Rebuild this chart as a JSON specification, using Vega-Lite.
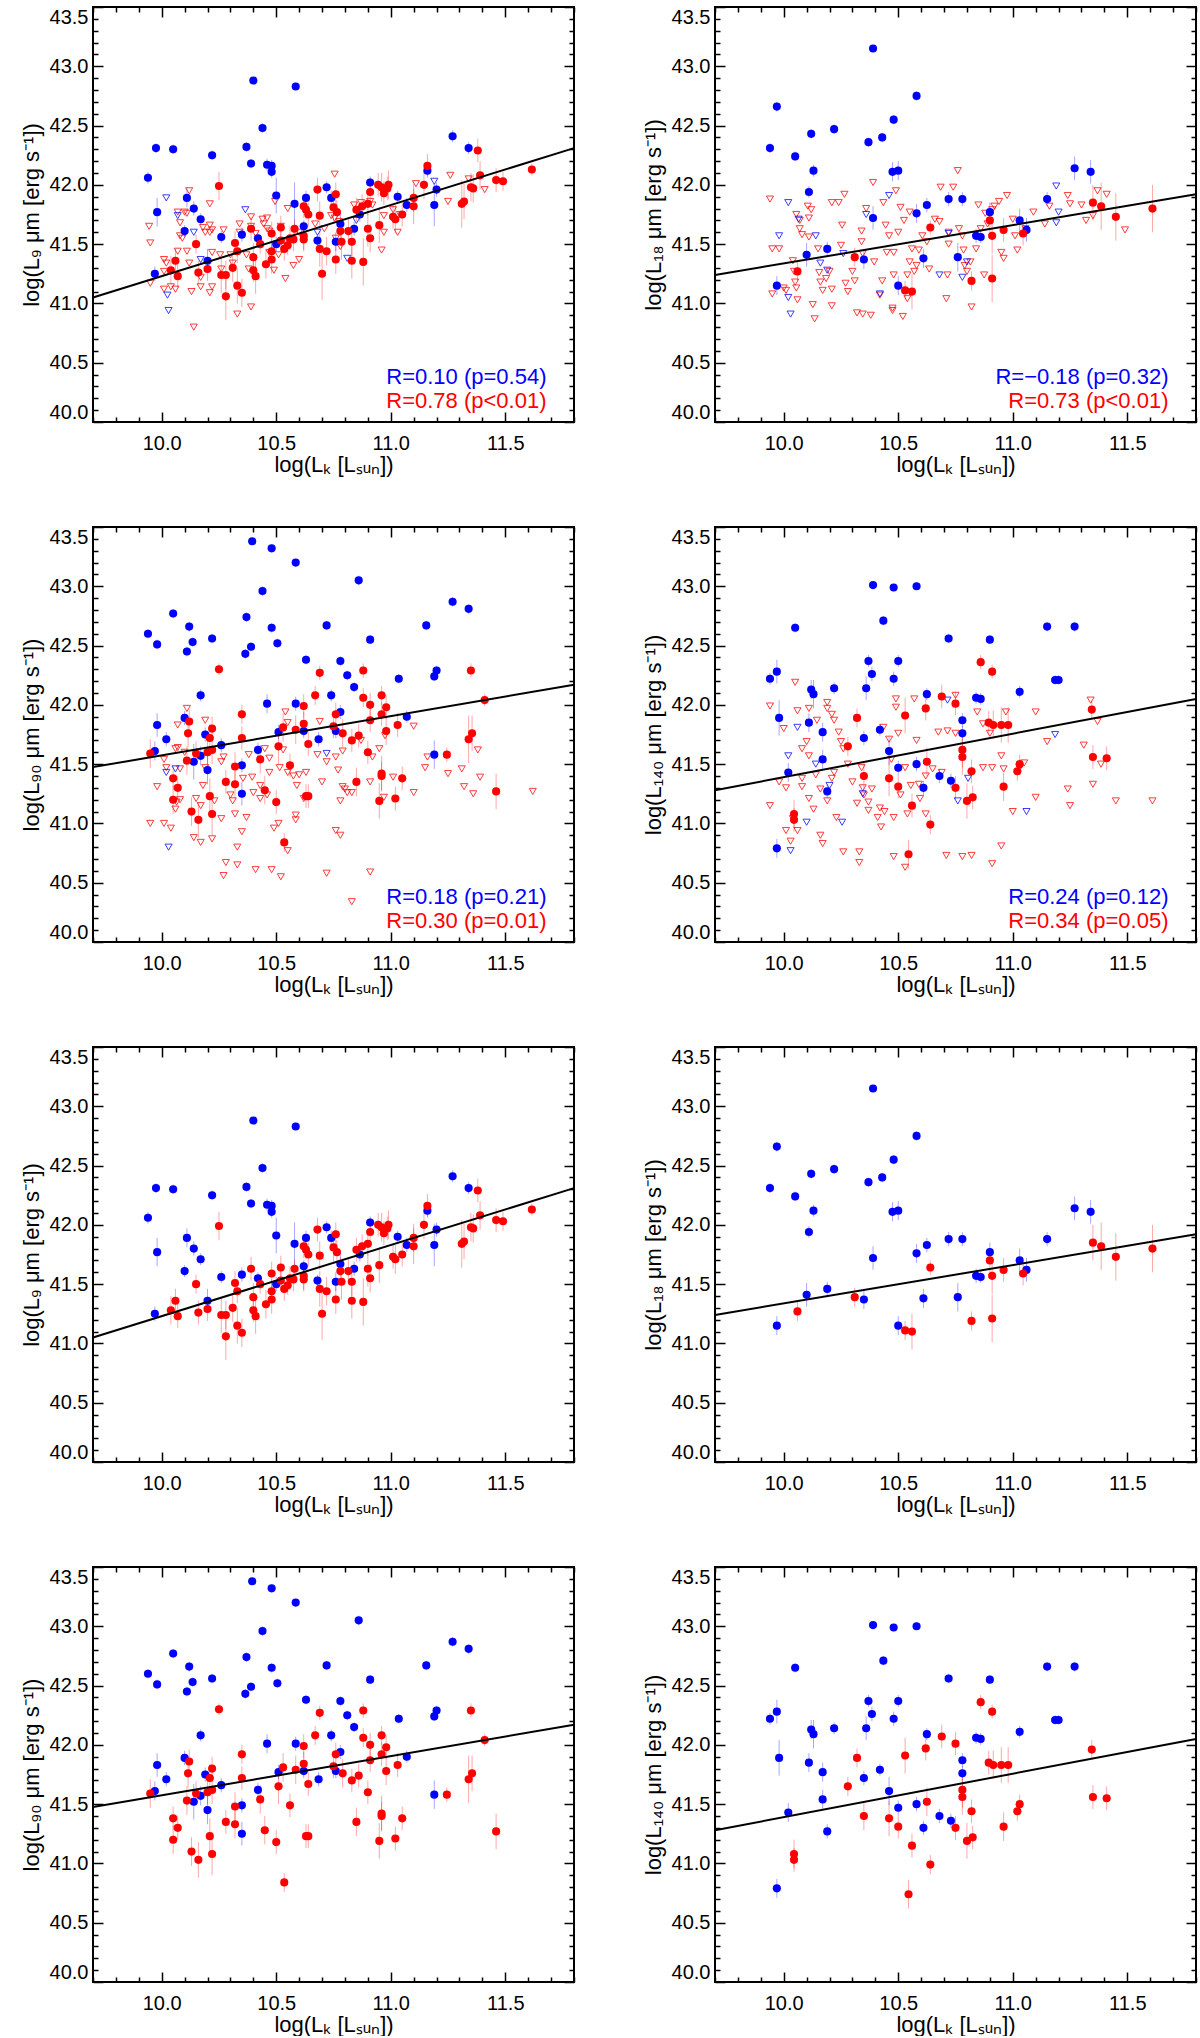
{
  "$schema": "https://vega.github.io/schema/vega-lite/v6.json",
  "background": "white",
  "padding": {"left": 19, "top": 5, "right": 5, "bottom": 0},
  "columns": 2,
  "spacing": {"row": 105, "column": 141},
  "bounds": "flush",
  "datasets": {
    "d9": [
      {"x":9.94,"y":42.06,"c":"b","e":0.05},{"x":9.975,"y":42.31,"c":"b","e":0.04},{"x":10.05,"y":42.30,"c":"b","e":0.04},{"x":9.98,"y":41.77,"c":"b","e":0.12},{"x":9.97,"y":41.25,"c":"b","e":0.06},{"x":10.11,"y":41.89,"c":"b","e":0.08},{"x":10.14,"y":41.80,"c":"b","e":0.06},{"x":10.10,"y":41.61,"c":"b","e":0.05},{"x":10.17,"y":41.71,"c":"b","e":0.05},{"x":10.22,"y":42.25,"c":"b","e":0.04},{"x":10.20,"y":41.36,"c":"b","e":0.1},{"x":10.26,"y":41.56,"c":"b","e":0.05},{"x":10.40,"y":42.88,"c":"b","e":0.03},{"x":10.37,"y":42.32,"c":"b","e":0.04},{"x":10.39,"y":42.18,"c":"b","e":0.04},{"x":10.44,"y":42.48,"c":"b","e":0.04},{"x":10.35,"y":41.58,"c":"b","e":0.06},{"x":10.42,"y":41.55,"c":"b","e":0.05},{"x":10.46,"y":42.17,"c":"b","e":0.05},{"x":10.48,"y":42.16,"c":"b","e":0.05},{"x":10.48,"y":42.11,"c":"b","e":0.05},{"x":10.50,"y":41.91,"c":"b","e":0.15},{"x":10.50,"y":41.50,"c":"b","e":0.06},{"x":10.585,"y":42.83,"c":"b","e":0.03},{"x":10.58,"y":41.84,"c":"b","e":0.18},{"x":10.63,"y":41.89,"c":"b","e":0.06},{"x":10.62,"y":41.65,"c":"b","e":0.05},{"x":10.68,"y":41.53,"c":"b","e":0.05},{"x":10.72,"y":41.98,"c":"b","e":0.05},{"x":10.74,"y":41.89,"c":"b","e":0.06},{"x":10.76,"y":41.52,"c":"b","e":0.08},{"x":10.78,"y":41.67,"c":"b","e":0.1},{"x":10.84,"y":41.63,"c":"b","e":0.06},{"x":10.865,"y":41.75,"c":"b","e":0.06},{"x":10.91,"y":42.02,"c":"b","e":0.05},{"x":11.03,"y":41.90,"c":"b","e":0.05},{"x":11.07,"y":41.83,"c":"b","e":0.06},{"x":11.16,"y":42.12,"c":"b","e":0.05},{"x":11.19,"y":41.83,"c":"b","e":0.18},{"x":11.20,"y":41.96,"c":"b","e":0.06},{"x":11.27,"y":42.41,"c":"b","e":0.05},{"x":11.34,"y":42.31,"c":"b","e":0.05},
      {"x":10.25,"y":41.99,"c":"r","e":0.12},{"x":10.15,"y":41.50,"c":"r","e":0.08},{"x":10.06,"y":41.36,"c":"r","e":0.1},{"x":10.04,"y":41.28,"c":"r","e":0.12},{"x":10.07,"y":41.23,"c":"r","e":0.1},{"x":10.16,"y":41.26,"c":"r","e":0.1},{"x":10.20,"y":41.29,"c":"r","e":0.1},{"x":10.26,"y":41.24,"c":"r","e":0.15},{"x":10.28,"y":41.24,"c":"r","e":0.12},{"x":10.28,"y":41.06,"c":"r","e":0.2},{"x":10.32,"y":41.51,"c":"r","e":0.1},{"x":10.31,"y":41.30,"c":"r","e":0.12},{"x":10.33,"y":41.44,"c":"r","e":0.1},{"x":10.33,"y":41.15,"c":"r","e":0.15},{"x":10.35,"y":41.09,"c":"r","e":0.12},{"x":10.39,"y":41.63,"c":"r","e":0.1},{"x":10.40,"y":41.39,"c":"r","e":0.12},{"x":10.40,"y":41.28,"c":"r","e":0.1},{"x":10.41,"y":41.23,"c":"r","e":0.15},{"x":10.43,"y":41.50,"c":"r","e":0.08},{"x":10.455,"y":41.33,"c":"r","e":0.12},{"x":10.48,"y":41.59,"c":"r","e":0.1},{"x":10.48,"y":41.44,"c":"r","e":0.1},{"x":10.48,"y":41.37,"c":"r","e":0.12},{"x":10.52,"y":41.64,"c":"r","e":0.1},{"x":10.52,"y":41.53,"c":"r","e":0.08},{"x":10.535,"y":41.46,"c":"r","e":0.1},{"x":10.55,"y":41.49,"c":"r","e":0.08},{"x":10.56,"y":41.55,"c":"r","e":0.1},{"x":10.58,"y":41.63,"c":"r","e":0.08},{"x":10.575,"y":41.54,"c":"r","e":0.1},{"x":10.62,"y":41.82,"c":"r","e":0.1},{"x":10.63,"y":41.79,"c":"r","e":0.08},{"x":10.64,"y":41.75,"c":"r","e":0.1},{"x":10.62,"y":41.57,"c":"r","e":0.12},{"x":10.62,"y":41.54,"c":"r","e":0.1},{"x":10.68,"y":41.96,"c":"r","e":0.1},{"x":10.69,"y":41.74,"c":"r","e":0.12},{"x":10.69,"y":41.46,"c":"r","e":0.15},{"x":10.72,"y":41.44,"c":"r","e":0.12},{"x":10.70,"y":41.25,"c":"r","e":0.22},{"x":10.76,"y":41.92,"c":"r","e":0.1},{"x":10.75,"y":41.81,"c":"r","e":0.12},{"x":10.765,"y":41.77,"c":"r","e":0.1},{"x":10.78,"y":41.61,"c":"r","e":0.12},{"x":10.785,"y":41.52,"c":"r","e":0.15},{"x":10.76,"y":41.37,"c":"r","e":0.12},{"x":10.815,"y":41.61,"c":"r","e":0.1},{"x":10.83,"y":41.52,"c":"r","e":0.12},{"x":10.83,"y":41.36,"c":"r","e":0.15},{"x":10.88,"y":41.35,"c":"r","e":0.2},{"x":10.85,"y":41.79,"c":"r","e":0.1},{"x":10.875,"y":41.82,"c":"r","e":0.1},{"x":10.90,"y":41.84,"c":"r","e":0.1},{"x":10.91,"y":41.94,"c":"r","e":0.12},{"x":10.90,"y":41.63,"c":"r","e":0.15},{"x":10.91,"y":41.55,"c":"r","e":0.12},{"x":10.95,"y":41.66,"c":"r","e":0.15},{"x":10.945,"y":42.00,"c":"r","e":0.1},{"x":10.96,"y":41.98,"c":"r","e":0.12},{"x":10.97,"y":41.93,"c":"r","e":0.1},{"x":10.985,"y":41.97,"c":"r","e":0.1},{"x":10.99,"y":42.00,"c":"r","e":0.12},{"x":11.01,"y":41.73,"c":"r","e":0.1},{"x":11.02,"y":41.71,"c":"r","e":0.12},{"x":11.05,"y":41.75,"c":"r","e":0.1},{"x":11.10,"y":41.89,"c":"r","e":0.12},{"x":11.10,"y":41.82,"c":"r","e":0.15},{"x":11.145,"y":42.00,"c":"r","e":0.12},{"x":11.16,"y":42.16,"c":"r","e":0.1},{"x":11.31,"y":41.84,"c":"r","e":0.2},{"x":11.32,"y":41.86,"c":"r","e":0.15},{"x":11.35,"y":41.98,"c":"r","e":0.12},{"x":11.36,"y":41.97,"c":"r","e":0.12},{"x":11.38,"y":42.29,"c":"r","e":0.1},{"x":11.39,"y":42.08,"c":"r","e":0.12},{"x":11.46,"y":42.04,"c":"r","e":0.1},{"x":11.49,"y":42.03,"c":"r","e":0.08},{"x":11.616,"y":42.13,"c":"r","e":0.05}
    ],
    "u9": [
      {"x":9.945,"y":41.65,"c":"r"},{"x":9.95,"y":41.51,"c":"r"},{"x":9.95,"y":41.17,"c":"r"},{"x":10.01,"y":41.37,"c":"r"},{"x":10.02,"y":41.34,"c":"r"},{"x":10.01,"y":41.27,"c":"r"},{"x":10.01,"y":41.12,"c":"r"},{"x":10.04,"y":41.14,"c":"r"},{"x":10.06,"y":41.12,"c":"r"},{"x":10.07,"y":41.77,"c":"r"},{"x":10.08,"y":41.68,"c":"r"},{"x":10.08,"y":41.57,"c":"r"},{"x":10.09,"y":41.55,"c":"r"},{"x":10.07,"y":41.44,"c":"r"},{"x":10.10,"y":41.77,"c":"r"},{"x":10.11,"y":41.76,"c":"r"},{"x":10.12,"y":41.95,"c":"r"},{"x":10.11,"y":41.44,"c":"r"},{"x":10.12,"y":41.34,"c":"r"},{"x":10.13,"y":41.10,"c":"r"},{"x":10.14,"y":40.80,"c":"r"},{"x":10.17,"y":41.14,"c":"r"},{"x":10.17,"y":41.22,"c":"r"},{"x":10.18,"y":41.64,"c":"r"},{"x":10.19,"y":41.60,"c":"r"},{"x":10.21,"y":41.84,"c":"r"},{"x":10.21,"y":41.66,"c":"r"},{"x":10.21,"y":41.60,"c":"r"},{"x":10.22,"y":41.62,"c":"r"},{"x":10.21,"y":41.09,"c":"r"},{"x":10.22,"y":41.14,"c":"r"},{"x":10.22,"y":41.43,"c":"r"},{"x":10.255,"y":41.41,"c":"r"},{"x":10.26,"y":41.29,"c":"r"},{"x":10.27,"y":41.62,"c":"r"},{"x":10.30,"y":41.41,"c":"r"},{"x":10.31,"y":41.34,"c":"r"},{"x":10.33,"y":40.91,"c":"r"},{"x":10.34,"y":41.67,"c":"r"},{"x":10.34,"y":41.60,"c":"r"},{"x":10.37,"y":41.41,"c":"r"},{"x":10.38,"y":41.29,"c":"r"},{"x":10.39,"y":40.97,"c":"r"},{"x":10.39,"y":41.73,"c":"r"},{"x":10.39,"y":41.65,"c":"r"},{"x":10.41,"y":41.59,"c":"r"},{"x":10.44,"y":41.71,"c":"r"},{"x":10.445,"y":41.67,"c":"r"},{"x":10.46,"y":41.72,"c":"r"},{"x":10.46,"y":41.63,"c":"r"},{"x":10.47,"y":41.61,"c":"r"},{"x":10.47,"y":41.43,"c":"r"},{"x":10.49,"y":41.28,"c":"r"},{"x":10.495,"y":41.86,"c":"r"},{"x":10.51,"y":41.41,"c":"r"},{"x":10.52,"y":41.65,"c":"r"},{"x":10.54,"y":41.21,"c":"r"},{"x":10.55,"y":41.80,"c":"r"},{"x":10.555,"y":41.52,"c":"r"},{"x":10.575,"y":41.32,"c":"r"},{"x":10.60,"y":41.37,"c":"r"},{"x":10.60,"y":41.60,"c":"r"},{"x":10.67,"y":41.67,"c":"r"},{"x":10.71,"y":41.63,"c":"r"},{"x":10.755,"y":42.09,"c":"r"},{"x":10.74,"y":41.74,"c":"r"},{"x":10.755,"y":41.72,"c":"r"},{"x":10.76,"y":41.55,"c":"r"},{"x":10.78,"y":41.48,"c":"r"},{"x":10.775,"y":41.69,"c":"r"},{"x":10.84,"y":41.83,"c":"r"},{"x":10.87,"y":41.85,"c":"r"},{"x":10.91,"y":41.86,"c":"r"},{"x":10.92,"y":41.83,"c":"r"},{"x":10.96,"y":41.45,"c":"r"},{"x":10.97,"y":41.60,"c":"r"},{"x":10.97,"y":41.74,"c":"r"},{"x":11.01,"y":41.79,"c":"r"},{"x":11.03,"y":41.60,"c":"r"},{"x":11.04,"y":41.75,"c":"r"},{"x":11.11,"y":42.01,"c":"r"},{"x":11.25,"y":41.86,"c":"r"},{"x":11.26,"y":42.08,"c":"r"},{"x":11.34,"y":42.05,"c":"r"},{"x":11.41,"y":41.96,"c":"r"},
      {"x":10.02,"y":41.89,"c":"b"},{"x":10.07,"y":41.74,"c":"b"},{"x":10.14,"y":41.60,"c":"b"},{"x":10.025,"y":41.07,"c":"b"},{"x":10.03,"y":40.94,"c":"b"},{"x":10.365,"y":41.79,"c":"b"},{"x":10.17,"y":41.37,"c":"b"},{"x":10.68,"y":41.60,"c":"b"},{"x":10.81,"y":41.38,"c":"b"},{"x":11.19,"y":42.03,"c":"b"},{"x":10.85,"y":41.70,"c":"b"}
    ],
    "d18": [
      {"x":9.94,"y":42.31,"c":"b","e":0.04},{"x":9.97,"y":42.66,"c":"b","e":0.04},{"x":10.05,"y":42.24,"c":"b","e":0.04},{"x":10.12,"y":42.43,"c":"b","e":0.04},{"x":10.13,"y":42.12,"c":"b","e":0.05},{"x":10.11,"y":41.94,"c":"b","e":0.05},{"x":10.10,"y":41.41,"c":"b","e":0.1},{"x":9.97,"y":41.15,"c":"b","e":0.08},{"x":10.19,"y":41.46,"c":"b","e":0.06},{"x":10.22,"y":42.47,"c":"b","e":0.04},{"x":10.37,"y":42.36,"c":"b","e":0.04},{"x":10.39,"y":43.15,"c":"b","e":0.03},{"x":10.43,"y":42.40,"c":"b","e":0.04},{"x":10.48,"y":42.55,"c":"b","e":0.04},{"x":10.475,"y":42.11,"c":"b","e":0.08},{"x":10.50,"y":42.12,"c":"b","e":0.08},{"x":10.39,"y":41.72,"c":"b","e":0.1},{"x":10.35,"y":41.37,"c":"b","e":0.08},{"x":10.50,"y":41.15,"c":"b","e":0.08},{"x":10.58,"y":42.75,"c":"b","e":0.04},{"x":10.58,"y":41.76,"c":"b","e":0.08},{"x":10.625,"y":41.83,"c":"b","e":0.06},{"x":10.61,"y":41.38,"c":"b","e":0.08},{"x":10.72,"y":41.88,"c":"b","e":0.06},{"x":10.78,"y":41.88,"c":"b","e":0.06},{"x":10.76,"y":41.39,"c":"b","e":0.12},{"x":10.84,"y":41.57,"c":"b","e":0.06},{"x":10.86,"y":41.56,"c":"b","e":0.05},{"x":10.90,"y":41.77,"c":"b","e":0.08},{"x":11.03,"y":41.70,"c":"b","e":0.1},{"x":11.06,"y":41.62,"c":"b","e":0.1},{"x":11.15,"y":41.88,"c":"b","e":0.06},{"x":11.27,"y":42.14,"c":"b","e":0.1},{"x":11.34,"y":42.11,"c":"b","e":0.1},
      {"x":10.06,"y":41.27,"c":"r","e":0.08},{"x":10.31,"y":41.39,"c":"r","e":0.08},{"x":10.64,"y":41.64,"c":"r","e":0.06},{"x":10.53,"y":41.11,"c":"r","e":0.08},{"x":10.56,"y":41.10,"c":"r","e":0.15},{"x":10.82,"y":41.19,"c":"r","e":0.08},{"x":10.90,"y":41.70,"c":"r","e":0.1},{"x":10.91,"y":41.57,"c":"r","e":0.15},{"x":10.91,"y":41.21,"c":"r","e":0.2},{"x":10.96,"y":41.62,"c":"r","e":0.1},{"x":11.045,"y":41.59,"c":"r","e":0.1},{"x":11.35,"y":41.85,"c":"r","e":0.15},{"x":11.386,"y":41.82,"c":"r","e":0.2},{"x":11.45,"y":41.73,"c":"r","e":0.2},{"x":11.61,"y":41.80,"c":"r","e":0.2}
    ],
    "u18": [
      {"x":9.94,"y":41.88,"c":"r"},{"x":9.95,"y":41.08,"c":"r"},{"x":9.95,"y":41.46,"c":"r"},{"x":9.98,"y":41.46,"c":"r"},{"x":10.00,"y":41.13,"c":"r"},{"x":10.01,"y":41.11,"c":"r"},{"x":10.04,"y":41.36,"c":"r"},{"x":10.045,"y":41.27,"c":"r"},{"x":10.05,"y":41.18,"c":"r"},{"x":10.055,"y":41.13,"c":"r"},{"x":10.06,"y":41.03,"c":"r"},{"x":10.055,"y":41.75,"c":"r"},{"x":10.07,"y":41.70,"c":"r"},{"x":10.07,"y":41.63,"c":"r"},{"x":10.08,"y":41.58,"c":"r"},{"x":10.105,"y":41.82,"c":"r"},{"x":10.12,"y":41.79,"c":"r"},{"x":10.11,"y":41.72,"c":"r"},{"x":10.11,"y":41.56,"c":"r"},{"x":10.127,"y":40.99,"c":"r"},{"x":10.135,"y":40.87,"c":"r"},{"x":10.15,"y":41.46,"c":"r"},{"x":10.155,"y":41.26,"c":"r"},{"x":10.16,"y":41.18,"c":"r"},{"x":10.17,"y":41.11,"c":"r"},{"x":10.185,"y":41.21,"c":"r"},{"x":10.20,"y":41.27,"c":"r"},{"x":10.21,"y":40.98,"c":"r"},{"x":10.21,"y":41.12,"c":"r"},{"x":10.21,"y":41.85,"c":"r"},{"x":10.24,"y":41.85,"c":"r"},{"x":10.265,"y":41.92,"c":"r"},{"x":10.25,"y":41.49,"c":"r"},{"x":10.255,"y":41.66,"c":"r"},{"x":10.27,"y":41.17,"c":"r"},{"x":10.28,"y":41.10,"c":"r"},{"x":10.30,"y":41.27,"c":"r"},{"x":10.31,"y":41.19,"c":"r"},{"x":10.32,"y":40.92,"c":"r"},{"x":10.345,"y":40.91,"c":"r"},{"x":10.38,"y":40.90,"c":"r"},{"x":10.34,"y":41.61,"c":"r"},{"x":10.34,"y":41.52,"c":"r"},{"x":10.345,"y":41.42,"c":"r"},{"x":10.36,"y":41.80,"c":"r"},{"x":10.39,"y":42.02,"c":"r"},{"x":10.395,"y":41.35,"c":"r"},{"x":10.42,"y":41.07,"c":"r"},{"x":10.43,"y":41.19,"c":"r"},{"x":10.435,"y":41.85,"c":"r"},{"x":10.445,"y":41.66,"c":"r"},{"x":10.45,"y":41.43,"c":"r"},{"x":10.46,"y":41.57,"c":"r"},{"x":10.475,"y":40.94,"c":"r"},{"x":10.48,"y":41.24,"c":"r"},{"x":10.48,"y":41.43,"c":"r"},{"x":10.49,"y":41.95,"c":"r"},{"x":10.50,"y":41.60,"c":"r"},{"x":10.51,"y":41.81,"c":"r"},{"x":10.52,"y":40.89,"c":"r"},{"x":10.525,"y":41.70,"c":"r"},{"x":10.54,"y":41.24,"c":"r"},{"x":10.54,"y":41.04,"c":"r"},{"x":10.55,"y":41.77,"c":"r"},{"x":10.55,"y":41.35,"c":"r"},{"x":10.56,"y":41.46,"c":"r"},{"x":10.57,"y":41.27,"c":"r"},{"x":10.58,"y":41.32,"c":"r"},{"x":10.59,"y":41.45,"c":"r"},{"x":10.605,"y":41.57,"c":"r"},{"x":10.625,"y":41.52,"c":"r"},{"x":10.635,"y":41.29,"c":"r"},{"x":10.66,"y":41.71,"c":"r"},{"x":10.68,"y":41.69,"c":"r"},{"x":10.685,"y":41.98,"c":"r"},{"x":10.71,"y":41.04,"c":"r"},{"x":10.715,"y":41.24,"c":"r"},{"x":10.72,"y":41.50,"c":"r"},{"x":10.72,"y":41.60,"c":"r"},{"x":10.74,"y":41.98,"c":"r"},{"x":10.76,"y":42.12,"c":"r"},{"x":10.765,"y":41.63,"c":"r"},{"x":10.78,"y":41.57,"c":"r"},{"x":10.785,"y":41.45,"c":"r"},{"x":10.79,"y":41.32,"c":"r"},{"x":10.80,"y":41.27,"c":"r"},{"x":10.815,"y":41.35,"c":"r"},{"x":10.84,"y":41.46,"c":"r"},{"x":10.85,"y":41.83,"c":"r"},{"x":10.86,"y":41.63,"c":"r"},{"x":10.875,"y":41.24,"c":"r"},{"x":10.88,"y":41.76,"c":"r"},{"x":10.89,"y":41.67,"c":"r"},{"x":10.91,"y":41.79,"c":"r"},{"x":10.92,"y":41.82,"c":"r"},{"x":10.94,"y":41.86,"c":"r"},{"x":10.95,"y":41.43,"c":"r"},{"x":10.96,"y":41.38,"c":"r"},{"x":10.975,"y":41.91,"c":"r"},{"x":11.00,"y":41.71,"c":"r"},{"x":11.01,"y":41.57,"c":"r"},{"x":11.02,"y":41.45,"c":"r"},{"x":11.055,"y":41.63,"c":"r"},{"x":11.09,"y":41.77,"c":"r"},{"x":11.14,"y":41.67,"c":"r"},{"x":11.16,"y":41.82,"c":"r"},{"x":11.24,"y":41.91,"c":"r"},{"x":11.25,"y":41.84,"c":"r"},{"x":11.30,"y":41.83,"c":"r"},{"x":11.32,"y":41.70,"c":"r"},{"x":11.37,"y":41.95,"c":"r"},{"x":10.82,"y":40.97,"c":"r"},{"x":10.475,"y":40.96,"c":"r"},{"x":11.41,"y":41.92,"c":"r"},{"x":11.35,"y":41.74,"c":"r"},{"x":11.49,"y":41.62,"c":"r"},
      {"x":10.02,"y":41.85,"c":"b"},{"x":9.98,"y":41.57,"c":"b"},{"x":10.065,"y":41.71,"c":"b"},{"x":10.02,"y":41.05,"c":"b"},{"x":10.03,"y":40.91,"c":"b"},{"x":10.14,"y":41.57,"c":"b"},{"x":10.16,"y":41.34,"c":"b"},{"x":10.19,"y":41.28,"c":"b"},{"x":10.26,"y":41.42,"c":"b"},{"x":10.36,"y":41.75,"c":"b"},{"x":10.42,"y":41.08,"c":"b"},{"x":10.46,"y":41.91,"c":"b"},{"x":10.72,"y":41.59,"c":"b"},{"x":10.68,"y":41.24,"c":"b"},{"x":10.78,"y":41.22,"c":"b"},{"x":10.80,"y":41.35,"c":"b"},{"x":11.19,"y":41.99,"c":"b"},{"x":11.20,"y":41.77,"c":"b"},{"x":11.19,"y":41.68,"c":"b"}
    ],
    "d90": [
      {"x":9.94,"y":42.60,"c":"b","e":0.04},{"x":9.98,"y":42.51,"c":"b","e":0.04},{"x":9.97,"y":41.61,"c":"b","e":0.08},{"x":9.98,"y":41.83,"c":"b","e":0.1},{"x":10.05,"y":42.77,"c":"b","e":0.04},{"x":10.02,"y":41.71,"c":"b","e":0.06},{"x":10.10,"y":41.89,"c":"b","e":0.06},{"x":10.12,"y":42.66,"c":"b","e":0.04},{"x":10.135,"y":42.53,"c":"b","e":0.04},{"x":10.11,"y":42.45,"c":"b","e":0.04},{"x":10.17,"y":42.08,"c":"b","e":0.05},{"x":10.14,"y":41.52,"c":"b","e":0.15},{"x":10.17,"y":41.57,"c":"b","e":0.08},{"x":10.19,"y":41.75,"c":"b","e":0.06},{"x":10.20,"y":41.45,"c":"b","e":0.12},{"x":10.22,"y":42.56,"c":"b","e":0.04},{"x":10.26,"y":41.66,"c":"b","e":0.06},{"x":10.37,"y":42.74,"c":"b","e":0.04},{"x":10.39,"y":42.49,"c":"b","e":0.04},{"x":10.365,"y":42.43,"c":"b","e":0.04},{"x":10.395,"y":43.38,"c":"b","e":0.03},{"x":10.44,"y":42.96,"c":"b","e":0.04},{"x":10.48,"y":43.32,"c":"b","e":0.03},{"x":10.48,"y":42.65,"c":"b","e":0.04},{"x":10.505,"y":42.52,"c":"b","e":0.04},{"x":10.46,"y":42.01,"c":"b","e":0.08},{"x":10.35,"y":41.49,"c":"b","e":0.06},{"x":10.35,"y":41.25,"c":"b","e":0.1},{"x":10.42,"y":41.62,"c":"b","e":0.06},{"x":10.51,"y":41.77,"c":"b","e":0.06},{"x":10.585,"y":43.20,"c":"b","e":0.03},{"x":10.63,"y":42.38,"c":"b","e":0.04},{"x":10.585,"y":42.01,"c":"b","e":0.06},{"x":10.62,"y":41.78,"c":"b","e":0.06},{"x":10.685,"y":41.71,"c":"b","e":0.06},{"x":10.72,"y":42.67,"c":"b","e":0.04},{"x":10.74,"y":42.08,"c":"b","e":0.05},{"x":10.78,"y":42.37,"c":"b","e":0.04},{"x":10.81,"y":42.25,"c":"b","e":0.04},{"x":10.78,"y":41.94,"c":"b","e":0.06},{"x":10.76,"y":41.78,"c":"b","e":0.06},{"x":10.84,"y":42.15,"c":"b","e":0.04},{"x":10.86,"y":43.05,"c":"b","e":0.04},{"x":10.91,"y":42.55,"c":"b","e":0.04},{"x":11.035,"y":42.22,"c":"b","e":0.04},{"x":11.07,"y":41.90,"c":"b","e":0.05},{"x":11.155,"y":42.67,"c":"b","e":0.04},{"x":11.19,"y":42.24,"c":"b","e":0.04},{"x":11.20,"y":42.29,"c":"b","e":0.04},{"x":11.19,"y":41.58,"c":"b","e":0.12},{"x":11.27,"y":42.87,"c":"b","e":0.04},{"x":11.34,"y":42.81,"c":"b","e":0.04},
      {"x":9.95,"y":41.59,"c":"r","e":0.12},{"x":10.25,"y":42.30,"c":"r","e":0.05},{"x":10.12,"y":41.86,"c":"r","e":0.1},{"x":10.115,"y":41.76,"c":"r","e":0.12},{"x":10.11,"y":41.53,"c":"r","e":0.12},{"x":10.05,"y":41.38,"c":"r","e":0.1},{"x":10.07,"y":41.30,"c":"r","e":0.1},{"x":10.05,"y":41.20,"c":"r","e":0.12},{"x":10.13,"y":41.10,"c":"r","e":0.12},{"x":10.16,"y":41.03,"c":"r","e":0.15},{"x":10.15,"y":41.59,"c":"r","e":0.1},{"x":10.20,"y":41.60,"c":"r","e":0.1},{"x":10.21,"y":41.72,"c":"r","e":0.12},{"x":10.22,"y":41.80,"c":"r","e":0.1},{"x":10.22,"y":41.62,"c":"r","e":0.12},{"x":10.21,"y":41.23,"c":"r","e":0.15},{"x":10.22,"y":41.08,"c":"r","e":0.18},{"x":10.28,"y":41.35,"c":"r","e":0.1},{"x":10.32,"y":41.48,"c":"r","e":0.12},{"x":10.32,"y":41.33,"c":"r","e":0.12},{"x":10.35,"y":41.92,"c":"r","e":0.08},{"x":10.35,"y":41.72,"c":"r","e":0.1},{"x":10.43,"y":41.54,"c":"r","e":0.12},{"x":10.45,"y":41.28,"c":"r","e":0.12},{"x":10.50,"y":41.18,"c":"r","e":0.1},{"x":10.51,"y":41.65,"c":"r","e":0.15},{"x":10.53,"y":41.81,"c":"r","e":0.12},{"x":10.56,"y":41.49,"c":"r","e":0.1},{"x":10.535,"y":40.84,"c":"r","e":0.08},{"x":10.585,"y":41.79,"c":"r","e":0.12},{"x":10.62,"y":41.99,"c":"r","e":0.1},{"x":10.62,"y":41.84,"c":"r","e":0.1},{"x":10.64,"y":41.67,"c":"r","e":0.1},{"x":10.63,"y":41.23,"c":"r","e":0.1},{"x":10.64,"y":41.23,"c":"r","e":0.1},{"x":10.67,"y":42.08,"c":"r","e":0.08},{"x":10.69,"y":42.27,"c":"r","e":0.06},{"x":10.75,"y":41.82,"c":"r","e":0.1},{"x":10.76,"y":41.92,"c":"r","e":0.1},{"x":10.79,"y":41.76,"c":"r","e":0.12},{"x":10.83,"y":41.70,"c":"r","e":0.1},{"x":10.86,"y":41.74,"c":"r","e":0.1},{"x":10.85,"y":41.35,"c":"r","e":0.12},{"x":10.88,"y":42.29,"c":"r","e":0.06},{"x":10.88,"y":42.06,"c":"r","e":0.08},{"x":10.91,"y":42.00,"c":"r","e":0.1},{"x":10.91,"y":41.87,"c":"r","e":0.1},{"x":10.90,"y":41.60,"c":"r","e":0.1},{"x":10.96,"y":42.08,"c":"r","e":0.08},{"x":10.96,"y":41.92,"c":"r","e":0.1},{"x":10.98,"y":41.98,"c":"r","e":0.1},{"x":10.98,"y":41.78,"c":"r","e":0.12},{"x":10.96,"y":41.42,"c":"r","e":0.15},{"x":10.96,"y":41.40,"c":"r","e":0.12},{"x":10.95,"y":41.19,"c":"r","e":0.15},{"x":11.02,"y":41.21,"c":"r","e":0.1},{"x":11.03,"y":41.83,"c":"r","e":0.1},{"x":11.05,"y":41.38,"c":"r","e":0.1},{"x":11.245,"y":41.58,"c":"r","e":0.06},{"x":11.34,"y":41.71,"c":"r","e":0.2},{"x":11.355,"y":41.76,"c":"r","e":0.15},{"x":11.35,"y":42.29,"c":"r","e":0.06},{"x":11.41,"y":42.04,"c":"r","e":0.05},{"x":11.46,"y":41.27,"c":"r","e":0.15}
    ],
    "u90": [
      {"x":9.95,"y":41.00,"c":"r"},{"x":10.01,"y":41.00,"c":"r"},{"x":10.04,"y":40.96,"c":"r"},{"x":9.98,"y":41.31,"c":"r"},{"x":10.01,"y":41.54,"c":"r"},{"x":10.02,"y":41.47,"c":"r"},{"x":10.06,"y":41.63,"c":"r"},{"x":10.07,"y":41.64,"c":"r"},{"x":10.07,"y":41.83,"c":"r"},{"x":10.08,"y":41.46,"c":"r"},{"x":10.065,"y":41.18,"c":"r"},{"x":10.06,"y":41.12,"c":"r"},{"x":10.08,"y":41.20,"c":"r"},{"x":10.11,"y":41.97,"c":"r"},{"x":10.10,"y":41.60,"c":"r"},{"x":10.15,"y":41.21,"c":"r"},{"x":10.14,"y":40.88,"c":"r"},{"x":10.17,"y":40.84,"c":"r"},{"x":10.17,"y":41.15,"c":"r"},{"x":10.18,"y":41.32,"c":"r"},{"x":10.19,"y":41.87,"c":"r"},{"x":10.19,"y":41.47,"c":"r"},{"x":10.22,"y":40.87,"c":"r"},{"x":10.23,"y":41.19,"c":"r"},{"x":10.26,"y":41.04,"c":"r"},{"x":10.26,"y":41.52,"c":"r"},{"x":10.27,"y":41.56,"c":"r"},{"x":10.27,"y":40.56,"c":"r"},{"x":10.28,"y":40.67,"c":"r"},{"x":10.30,"y":41.24,"c":"r"},{"x":10.31,"y":41.19,"c":"r"},{"x":10.32,"y":41.08,"c":"r"},{"x":10.33,"y":40.80,"c":"r"},{"x":10.33,"y":40.65,"c":"r"},{"x":10.35,"y":40.93,"c":"r"},{"x":10.37,"y":41.05,"c":"r"},{"x":10.355,"y":41.38,"c":"r"},{"x":10.38,"y":41.58,"c":"r"},{"x":10.395,"y":41.39,"c":"r"},{"x":10.40,"y":41.26,"c":"r"},{"x":10.41,"y":40.61,"c":"r"},{"x":10.43,"y":41.32,"c":"r"},{"x":10.43,"y":41.21,"c":"r"},{"x":10.45,"y":41.63,"c":"r"},{"x":10.47,"y":41.55,"c":"r"},{"x":10.47,"y":41.43,"c":"r"},{"x":10.46,"y":41.24,"c":"r"},{"x":10.48,"y":40.61,"c":"r"},{"x":10.49,"y":40.96,"c":"r"},{"x":10.51,"y":41.00,"c":"r"},{"x":10.515,"y":41.47,"c":"r"},{"x":10.52,"y":40.55,"c":"r"},{"x":10.53,"y":41.62,"c":"r"},{"x":10.54,"y":41.94,"c":"r"},{"x":10.55,"y":41.85,"c":"r"},{"x":10.55,"y":40.77,"c":"r"},{"x":10.55,"y":41.43,"c":"r"},{"x":10.575,"y":41.40,"c":"r"},{"x":10.585,"y":41.07,"c":"r"},{"x":10.585,"y":41.03,"c":"r"},{"x":10.59,"y":41.32,"c":"r"},{"x":10.60,"y":41.41,"c":"r"},{"x":10.63,"y":41.43,"c":"r"},{"x":10.62,"y":41.21,"c":"r"},{"x":10.69,"y":41.86,"c":"r"},{"x":10.68,"y":41.58,"c":"r"},{"x":10.70,"y":41.35,"c":"r"},{"x":10.72,"y":40.58,"c":"r"},{"x":10.72,"y":41.52,"c":"r"},{"x":10.76,"y":41.56,"c":"r"},{"x":10.77,"y":41.45,"c":"r"},{"x":10.79,"y":41.61,"c":"r"},{"x":10.78,"y":41.19,"c":"r"},{"x":10.79,"y":41.31,"c":"r"},{"x":10.80,"y":41.29,"c":"r"},{"x":10.81,"y":41.26,"c":"r"},{"x":10.83,"y":41.26,"c":"r"},{"x":10.83,"y":40.34,"c":"r"},{"x":10.76,"y":40.94,"c":"r"},{"x":10.78,"y":40.90,"c":"r"},{"x":10.87,"y":41.70,"c":"r"},{"x":10.91,"y":40.59,"c":"r"},{"x":10.91,"y":41.35,"c":"r"},{"x":10.92,"y":41.56,"c":"r"},{"x":10.95,"y":41.63,"c":"r"},{"x":10.975,"y":41.74,"c":"r"},{"x":10.97,"y":41.22,"c":"r"},{"x":11.01,"y":41.39,"c":"r"},{"x":11.10,"y":41.26,"c":"r"},{"x":11.10,"y":41.82,"c":"r"},{"x":11.15,"y":41.47,"c":"r"},{"x":11.16,"y":41.56,"c":"r"},{"x":11.25,"y":41.42,"c":"r"},{"x":11.31,"y":41.46,"c":"r"},{"x":11.32,"y":41.31,"c":"r"},{"x":11.36,"y":41.25,"c":"r"},{"x":11.38,"y":41.62,"c":"r"},{"x":11.39,"y":41.39,"c":"r"},{"x":11.62,"y":41.27,"c":"r"},
      {"x":10.02,"y":41.43,"c":"b"},{"x":10.06,"y":41.46,"c":"b"},{"x":10.03,"y":40.80,"c":"b"},{"x":10.72,"y":41.59,"c":"b"}
    ],
    "d140": [
      {"x":9.94,"y":42.22,"c":"b","e":0.05},{"x":9.97,"y":42.28,"c":"b","e":0.1},{"x":9.98,"y":41.89,"c":"b","e":0.15},{"x":9.97,"y":40.79,"c":"b","e":0.08},{"x":10.05,"y":42.65,"c":"b","e":0.04},{"x":10.02,"y":41.43,"c":"b","e":0.08},{"x":10.11,"y":41.85,"c":"b","e":0.08},{"x":10.12,"y":42.13,"c":"b","e":0.08},{"x":10.13,"y":42.09,"c":"b","e":0.12},{"x":10.17,"y":41.77,"c":"b","e":0.08},{"x":10.17,"y":41.54,"c":"b","e":0.08},{"x":10.19,"y":41.27,"c":"b","e":0.06},{"x":10.22,"y":42.14,"c":"b","e":0.05},{"x":10.35,"y":41.72,"c":"b","e":0.06},{"x":10.36,"y":42.14,"c":"b","e":0.1},{"x":10.37,"y":42.37,"c":"b","e":0.05},{"x":10.385,"y":42.26,"c":"b","e":0.06},{"x":10.39,"y":43.01,"c":"b","e":0.03},{"x":10.435,"y":42.71,"c":"b","e":0.04},{"x":10.48,"y":42.99,"c":"b","e":0.03},{"x":10.48,"y":42.22,"c":"b","e":0.06},{"x":10.50,"y":42.37,"c":"b","e":0.05},{"x":10.42,"y":41.79,"c":"b","e":0.05},{"x":10.46,"y":41.61,"c":"b","e":0.12},{"x":10.50,"y":41.47,"c":"b","e":0.06},{"x":10.58,"y":43.00,"c":"b","e":0.03},{"x":10.58,"y":41.50,"c":"b","e":0.06},{"x":10.61,"y":41.30,"c":"b","e":0.06},{"x":10.625,"y":42.09,"c":"b","e":0.05},{"x":10.68,"y":41.40,"c":"b","e":0.06},{"x":10.72,"y":42.56,"c":"b","e":0.04},{"x":10.73,"y":41.36,"c":"b","e":0.06},{"x":10.78,"y":41.87,"c":"b","e":0.06},{"x":10.78,"y":41.76,"c":"b","e":0.06},{"x":10.84,"y":42.06,"c":"b","e":0.05},{"x":10.86,"y":42.05,"c":"b","e":0.05},{"x":10.90,"y":42.55,"c":"b","e":0.04},{"x":11.03,"y":42.11,"c":"b","e":0.05},{"x":11.15,"y":42.66,"c":"b","e":0.04},{"x":11.185,"y":42.21,"c":"b","e":0.04},{"x":11.20,"y":42.21,"c":"b","e":0.04},{"x":11.27,"y":42.66,"c":"b","e":0.04},
      {"x":10.045,"y":41.08,"c":"r","e":0.12},{"x":10.045,"y":41.03,"c":"r","e":0.1},{"x":10.32,"y":41.89,"c":"r","e":0.08},{"x":10.28,"y":41.65,"c":"r","e":0.08},{"x":10.35,"y":41.40,"c":"r","e":0.12},{"x":10.46,"y":41.38,"c":"r","e":0.15},{"x":10.50,"y":41.31,"c":"r","e":0.1},{"x":10.53,"y":41.91,"c":"r","e":0.15},{"x":10.56,"y":41.15,"c":"r","e":0.1},{"x":10.545,"y":40.74,"c":"r","e":0.12},{"x":10.62,"y":41.97,"c":"r","e":0.1},{"x":10.625,"y":41.52,"c":"r","e":0.12},{"x":10.64,"y":40.99,"c":"r","e":0.08},{"x":10.69,"y":42.07,"c":"r","e":0.1},{"x":10.75,"y":42.01,"c":"r","e":0.1},{"x":10.75,"y":41.30,"c":"r","e":0.1},{"x":10.78,"y":41.62,"c":"r","e":0.15},{"x":10.78,"y":41.56,"c":"r","e":0.15},{"x":10.80,"y":41.19,"c":"r","e":0.15},{"x":10.825,"y":41.22,"c":"r","e":0.1},{"x":10.82,"y":41.44,"c":"r","e":0.1},{"x":10.86,"y":42.36,"c":"r","e":0.06},{"x":10.91,"y":42.28,"c":"r","e":0.06},{"x":10.895,"y":41.85,"c":"r","e":0.1},{"x":10.915,"y":41.83,"c":"r","e":0.12},{"x":10.95,"y":41.83,"c":"r","e":0.15},{"x":10.98,"y":41.83,"c":"r","e":0.15},{"x":10.96,"y":41.31,"c":"r","e":0.12},{"x":11.03,"y":41.50,"c":"r","e":0.08},{"x":11.02,"y":41.44,"c":"r","e":0.08},{"x":11.345,"y":41.96,"c":"r","e":0.08},{"x":11.35,"y":41.56,"c":"r","e":0.1},{"x":11.41,"y":41.55,"c":"r","e":0.1}
    ],
    "u140": [
      {"x":9.94,"y":41.99,"c":"r"},{"x":9.94,"y":41.15,"c":"r"},{"x":9.98,"y":41.35,"c":"r"},{"x":10.00,"y":41.80,"c":"r"},{"x":10.01,"y":41.30,"c":"r"},{"x":10.01,"y":40.94,"c":"r"},{"x":10.03,"y":40.85,"c":"r"},{"x":10.04,"y":41.04,"c":"r"},{"x":10.05,"y":42.19,"c":"r"},{"x":10.06,"y":41.95,"c":"r"},{"x":10.06,"y":40.94,"c":"r"},{"x":10.08,"y":41.38,"c":"r"},{"x":10.08,"y":41.63,"c":"r"},{"x":10.08,"y":41.31,"c":"r"},{"x":10.10,"y":41.69,"c":"r"},{"x":10.11,"y":41.21,"c":"r"},{"x":10.11,"y":41.57,"c":"r"},{"x":10.11,"y":41.97,"c":"r"},{"x":10.13,"y":41.12,"c":"r"},{"x":10.145,"y":41.87,"c":"r"},{"x":10.14,"y":41.41,"c":"r"},{"x":10.16,"y":41.29,"c":"r"},{"x":10.16,"y":40.90,"c":"r"},{"x":10.17,"y":40.83,"c":"r"},{"x":10.19,"y":41.97,"c":"r"},{"x":10.19,"y":42.02,"c":"r"},{"x":10.19,"y":41.19,"c":"r"},{"x":10.21,"y":41.92,"c":"r"},{"x":10.22,"y":41.87,"c":"r"},{"x":10.22,"y":41.43,"c":"r"},{"x":10.21,"y":41.38,"c":"r"},{"x":10.23,"y":41.05,"c":"r"},{"x":10.24,"y":41.77,"c":"r"},{"x":10.25,"y":41.69,"c":"r"},{"x":10.26,"y":41.63,"c":"r"},{"x":10.26,"y":40.76,"c":"r"},{"x":10.28,"y":41.50,"c":"r"},{"x":10.30,"y":41.35,"c":"r"},{"x":10.32,"y":41.17,"c":"r"},{"x":10.33,"y":40.76,"c":"r"},{"x":10.33,"y":40.67,"c":"r"},{"x":10.34,"y":41.47,"c":"r"},{"x":10.345,"y":41.30,"c":"r"},{"x":10.35,"y":41.24,"c":"r"},{"x":10.37,"y":41.18,"c":"r"},{"x":10.37,"y":41.11,"c":"r"},{"x":10.385,"y":41.29,"c":"r"},{"x":10.41,"y":41.05,"c":"r"},{"x":10.42,"y":41.13,"c":"r"},{"x":10.425,"y":40.97,"c":"r"},{"x":10.435,"y":41.81,"c":"r"},{"x":10.44,"y":41.10,"c":"r"},{"x":10.46,"y":41.71,"c":"r"},{"x":10.47,"y":41.54,"c":"r"},{"x":10.48,"y":40.72,"c":"r"},{"x":10.48,"y":41.05,"c":"r"},{"x":10.49,"y":41.98,"c":"r"},{"x":10.49,"y":42.05,"c":"r"},{"x":10.50,"y":41.76,"c":"r"},{"x":10.51,"y":41.24,"c":"r"},{"x":10.53,"y":41.47,"c":"r"},{"x":10.54,"y":41.08,"c":"r"},{"x":10.53,"y":40.63,"c":"r"},{"x":10.555,"y":41.32,"c":"r"},{"x":10.57,"y":42.05,"c":"r"},{"x":10.58,"y":41.70,"c":"r"},{"x":10.59,"y":41.33,"c":"r"},{"x":10.595,"y":41.21,"c":"r"},{"x":10.62,"y":41.08,"c":"r"},{"x":10.62,"y":41.40,"c":"r"},{"x":10.65,"y":41.46,"c":"r"},{"x":10.675,"y":41.77,"c":"r"},{"x":10.715,"y":41.78,"c":"r"},{"x":10.69,"y":41.43,"c":"r"},{"x":10.71,"y":40.73,"c":"r"},{"x":10.75,"y":42.08,"c":"r"},{"x":10.75,"y":41.76,"c":"r"},{"x":10.78,"y":40.72,"c":"r"},{"x":10.82,"y":40.73,"c":"r"},{"x":10.845,"y":41.94,"c":"r"},{"x":10.87,"y":41.84,"c":"r"},{"x":10.87,"y":41.47,"c":"r"},{"x":10.91,"y":41.47,"c":"r"},{"x":10.91,"y":40.66,"c":"r"},{"x":10.90,"y":41.76,"c":"r"},{"x":10.95,"y":41.57,"c":"r"},{"x":10.95,"y":40.81,"c":"r"},{"x":10.96,"y":41.46,"c":"r"},{"x":10.97,"y":41.94,"c":"r"},{"x":11.00,"y":41.10,"c":"r"},{"x":11.03,"y":41.47,"c":"r"},{"x":11.05,"y":41.51,"c":"r"},{"x":11.10,"y":41.22,"c":"r"},{"x":11.10,"y":41.94,"c":"r"},{"x":11.15,"y":41.69,"c":"r"},{"x":11.24,"y":41.29,"c":"r"},{"x":11.25,"y":41.15,"c":"r"},{"x":11.31,"y":41.66,"c":"r"},{"x":11.34,"y":42.04,"c":"r"},{"x":11.35,"y":41.33,"c":"r"},{"x":11.37,"y":41.86,"c":"r"},{"x":11.385,"y":41.50,"c":"r"},{"x":11.45,"y":41.19,"c":"r"},{"x":11.61,"y":41.19,"c":"r"},
      {"x":10.02,"y":41.57,"c":"b"},{"x":10.06,"y":41.81,"c":"b"},{"x":10.14,"y":41.50,"c":"b"},{"x":10.20,"y":41.32,"c":"b"},{"x":10.10,"y":41.01,"c":"b"},{"x":10.255,"y":41.01,"c":"b"},{"x":10.03,"y":40.77,"c":"b"},{"x":10.345,"y":41.25,"c":"b"},{"x":10.715,"y":42.04,"c":"b"},{"x":10.805,"y":41.38,"c":"b"},{"x":10.76,"y":41.19,"c":"b"},{"x":11.06,"y":41.10,"c":"b"},{"x":11.185,"y":41.75,"c":"b"}
    ]
  },
  "concat": [
    {
      "width": 481, "height": 415,
      "encoding": {
        "x": {"field": "x", "type": "quantitative", "scale": {"domain": [9.7, 11.8], "nice": false, "zero": false}, "axis": null},
        "y": {"field": "y", "type": "quantitative", "scale": {"domain": [40, 43.5], "nice": false, "zero": false}, "axis": null},
        "color": {"field": "c", "type": "nominal", "scale": {"domain": ["b", "r"], "range": ["#0000ff", "#ff0000"]}, "legend": null}
      },
      "layer": [
        {"data": {"name": "d9"}, "mark": {"type": "errorbar", "ticks": false, "thickness": 1, "opacity": 0.35}, "encoding": {"yError": {"field": "e"}}},
        {"data": {"name": "u9"}, "mark": {"type": "point", "shape": "triangle-down", "filled": false, "size": 50, "strokeWidth": 0.9, "opacity": 0.85}},
        {"data": {"name": "d9"}, "mark": {"type": "circle", "size": 66, "opacity": 1},
         "encoding": {
           "x": {"field": "x", "type": "quantitative", "scale": {"domain": [9.7, 11.8], "nice": false, "zero": false}, "axis": {"orient": "bottom", "values": [9.7,9.8,9.9,10,10.1,10.2,10.3,10.4,10.5,10.6,10.7,10.8,10.9,11,11.1,11.2,11.3,11.4,11.5,11.6,11.7,11.8], "labelExpr": "abs(datum.value*2-round(datum.value*2))<0.01 ? format(datum.value,'.1f') : ''", "tickSize": {"condition": {"test": "abs(datum.value*2-round(datum.value*2))<0.01", "value": -10}, "value": -5}, "labelPadding": 21, "labelFlush": false, "title": "log(Lₖ [Lₛᵤₙ])", "titlePadding": -4}},
           "y": {"field": "y", "type": "quantitative", "scale": {"domain": [40, 43.5], "nice": false, "zero": false}, "axis": {"orient": "left", "values": [40,40.1,40.2,40.3,40.4,40.5,40.6,40.7,40.8,40.9,41,41.1,41.2,41.3,41.4,41.5,41.6,41.7,41.8,41.9,42,42.1,42.2,42.3,42.4,42.5,42.6,42.7,42.8,42.9,43,43.1,43.2,43.3,43.4,43.5], "labelExpr": "abs(datum.value*2-round(datum.value*2))<0.01 ? format(datum.value,'.1f') : ''", "tickSize": {"condition": {"test": "abs(datum.value*2-round(datum.value*2))<0.01", "value": -10}, "value": -5}, "labelPadding": 15, "labelFlush": true, "title": "log(L₉ μm [erg s⁻¹])", "titlePadding": 6}}
         }},
        {"data": {"values": [{"x": 9.7, "y": 41.05, "x2": 11.8, "y2": 42.31}]}, "mark": {"type": "rule", "strokeWidth": 2},
         "encoding": {
           "x": {"field": "x", "type": "quantitative", "axis": {"orient": "top", "values": [9.7,9.8,9.9,10,10.1,10.2,10.3,10.4,10.5,10.6,10.7,10.8,10.9,11,11.1,11.2,11.3,11.4,11.5,11.6,11.7,11.8], "labels": false, "title": null, "tickSize": {"condition": {"test": "abs(datum.value*2-round(datum.value*2))<0.01", "value": -10}, "value": -5}}},
           "y": {"field": "y", "type": "quantitative", "axis": {"orient": "right", "values": [40,40.1,40.2,40.3,40.4,40.5,40.6,40.7,40.8,40.9,41,41.1,41.2,41.3,41.4,41.5,41.6,41.7,41.8,41.9,42,42.1,42.2,42.3,42.4,42.5,42.6,42.7,42.8,42.9,43,43.1,43.2,43.3,43.4,43.5], "labels": false, "title": null, "tickSize": {"condition": {"test": "abs(datum.value*2-round(datum.value*2))<0.01", "value": -10}, "value": -5}}},
           "x2": {"field": "x2"}, "y2": {"field": "y2"}, "color": {"value": "black"}
         }},
        {"data": {"values": [{"x": 11.68, "y": 40.38, "c": "b", "t": "R=0.10 (p=0.54)"}, {"x": 11.68, "y": 40.18, "c": "r", "t": "R=0.78 (p<0.01)"}]}, "mark": {"type": "text", "align": "right", "baseline": "middle", "fontSize": 22}, "encoding": {"text": {"field": "t"}}}
      ],
      "resolve": {"axis": {"x": "independent", "y": "independent"}}
    },
    {
      "width": 481, "height": 415,
      "encoding": {
        "x": {"field": "x", "type": "quantitative", "scale": {"domain": [9.7, 11.8], "nice": false, "zero": false}, "axis": null},
        "y": {"field": "y", "type": "quantitative", "scale": {"domain": [40, 43.5], "nice": false, "zero": false}, "axis": null},
        "color": {"field": "c", "type": "nominal", "scale": {"domain": ["b", "r"], "range": ["#0000ff", "#ff0000"]}, "legend": null}
      },
      "layer": [
        {"data": {"name": "d18"}, "mark": {"type": "errorbar", "ticks": false, "thickness": 1, "opacity": 0.35}, "encoding": {"yError": {"field": "e"}}},
        {"data": {"name": "u18"}, "mark": {"type": "point", "shape": "triangle-down", "filled": false, "size": 50, "strokeWidth": 0.9, "opacity": 0.85}},
        {"data": {"name": "d18"}, "mark": {"type": "circle", "size": 66, "opacity": 1},
         "encoding": {
           "x": {"field": "x", "type": "quantitative", "scale": {"domain": [9.7, 11.8], "nice": false, "zero": false}, "axis": {"orient": "bottom", "values": [9.7,9.8,9.9,10,10.1,10.2,10.3,10.4,10.5,10.6,10.7,10.8,10.9,11,11.1,11.2,11.3,11.4,11.5,11.6,11.7,11.8], "labelExpr": "abs(datum.value*2-round(datum.value*2))<0.01 ? format(datum.value,'.1f') : ''", "tickSize": {"condition": {"test": "abs(datum.value*2-round(datum.value*2))<0.01", "value": -10}, "value": -5}, "labelPadding": 21, "labelFlush": false, "title": "log(Lₖ [Lₛᵤₙ])", "titlePadding": -4}},
           "y": {"field": "y", "type": "quantitative", "scale": {"domain": [40, 43.5], "nice": false, "zero": false}, "axis": {"orient": "left", "values": [40,40.1,40.2,40.3,40.4,40.5,40.6,40.7,40.8,40.9,41,41.1,41.2,41.3,41.4,41.5,41.6,41.7,41.8,41.9,42,42.1,42.2,42.3,42.4,42.5,42.6,42.7,42.8,42.9,43,43.1,43.2,43.3,43.4,43.5], "labelExpr": "abs(datum.value*2-round(datum.value*2))<0.01 ? format(datum.value,'.1f') : ''", "tickSize": {"condition": {"test": "abs(datum.value*2-round(datum.value*2))<0.01", "value": -10}, "value": -5}, "labelPadding": 15, "labelFlush": true, "title": "log(L₁₈ μm [erg s⁻¹])", "titlePadding": 6}}
         }},
        {"data": {"values": [{"x": 9.7, "y": 41.24, "x2": 11.8, "y2": 41.92}]}, "mark": {"type": "rule", "strokeWidth": 2},
         "encoding": {
           "x": {"field": "x", "type": "quantitative", "axis": {"orient": "top", "values": [9.7,9.8,9.9,10,10.1,10.2,10.3,10.4,10.5,10.6,10.7,10.8,10.9,11,11.1,11.2,11.3,11.4,11.5,11.6,11.7,11.8], "labels": false, "title": null, "tickSize": {"condition": {"test": "abs(datum.value*2-round(datum.value*2))<0.01", "value": -10}, "value": -5}}},
           "y": {"field": "y", "type": "quantitative", "axis": {"orient": "right", "values": [40,40.1,40.2,40.3,40.4,40.5,40.6,40.7,40.8,40.9,41,41.1,41.2,41.3,41.4,41.5,41.6,41.7,41.8,41.9,42,42.1,42.2,42.3,42.4,42.5,42.6,42.7,42.8,42.9,43,43.1,43.2,43.3,43.4,43.5], "labels": false, "title": null, "tickSize": {"condition": {"test": "abs(datum.value*2-round(datum.value*2))<0.01", "value": -10}, "value": -5}}},
           "x2": {"field": "x2"}, "y2": {"field": "y2"}, "color": {"value": "black"}
         }},
        {"data": {"values": [{"x": 11.68, "y": 40.38, "c": "b", "t": "R=−0.18 (p=0.32)"}, {"x": 11.68, "y": 40.18, "c": "r", "t": "R=0.73 (p<0.01)"}]}, "mark": {"type": "text", "align": "right", "baseline": "middle", "fontSize": 22}, "encoding": {"text": {"field": "t"}}}
      ],
      "resolve": {"axis": {"x": "independent", "y": "independent"}}
    },
    {
      "width": 481, "height": 415,
      "encoding": {
        "x": {"field": "x", "type": "quantitative", "scale": {"domain": [9.7, 11.8], "nice": false, "zero": false}, "axis": null},
        "y": {"field": "y", "type": "quantitative", "scale": {"domain": [40, 43.5], "nice": false, "zero": false}, "axis": null},
        "color": {"field": "c", "type": "nominal", "scale": {"domain": ["b", "r"], "range": ["#0000ff", "#ff0000"]}, "legend": null}
      },
      "layer": [
        {"data": {"name": "d90"}, "mark": {"type": "errorbar", "ticks": false, "thickness": 1, "opacity": 0.35}, "encoding": {"yError": {"field": "e"}}},
        {"data": {"name": "u90"}, "mark": {"type": "point", "shape": "triangle-down", "filled": false, "size": 50, "strokeWidth": 0.9, "opacity": 0.85}},
        {"data": {"name": "d90"}, "mark": {"type": "circle", "size": 66, "opacity": 1},
         "encoding": {
           "x": {"field": "x", "type": "quantitative", "scale": {"domain": [9.7, 11.8], "nice": false, "zero": false}, "axis": {"orient": "bottom", "values": [9.7,9.8,9.9,10,10.1,10.2,10.3,10.4,10.5,10.6,10.7,10.8,10.9,11,11.1,11.2,11.3,11.4,11.5,11.6,11.7,11.8], "labelExpr": "abs(datum.value*2-round(datum.value*2))<0.01 ? format(datum.value,'.1f') : ''", "tickSize": {"condition": {"test": "abs(datum.value*2-round(datum.value*2))<0.01", "value": -10}, "value": -5}, "labelPadding": 21, "labelFlush": false, "title": "log(Lₖ [Lₛᵤₙ])", "titlePadding": -4}},
           "y": {"field": "y", "type": "quantitative", "scale": {"domain": [40, 43.5], "nice": false, "zero": false}, "axis": {"orient": "left", "values": [40,40.1,40.2,40.3,40.4,40.5,40.6,40.7,40.8,40.9,41,41.1,41.2,41.3,41.4,41.5,41.6,41.7,41.8,41.9,42,42.1,42.2,42.3,42.4,42.5,42.6,42.7,42.8,42.9,43,43.1,43.2,43.3,43.4,43.5], "labelExpr": "abs(datum.value*2-round(datum.value*2))<0.01 ? format(datum.value,'.1f') : ''", "tickSize": {"condition": {"test": "abs(datum.value*2-round(datum.value*2))<0.01", "value": -10}, "value": -5}, "labelPadding": 15, "labelFlush": true, "title": "log(L₉₀ μm [erg s⁻¹])", "titlePadding": 6}}
         }},
        {"data": {"values": [{"x": 9.7, "y": 41.475, "x2": 11.8, "y2": 42.17}]}, "mark": {"type": "rule", "strokeWidth": 2},
         "encoding": {
           "x": {"field": "x", "type": "quantitative", "axis": {"orient": "top", "values": [9.7,9.8,9.9,10,10.1,10.2,10.3,10.4,10.5,10.6,10.7,10.8,10.9,11,11.1,11.2,11.3,11.4,11.5,11.6,11.7,11.8], "labels": false, "title": null, "tickSize": {"condition": {"test": "abs(datum.value*2-round(datum.value*2))<0.01", "value": -10}, "value": -5}}},
           "y": {"field": "y", "type": "quantitative", "axis": {"orient": "right", "values": [40,40.1,40.2,40.3,40.4,40.5,40.6,40.7,40.8,40.9,41,41.1,41.2,41.3,41.4,41.5,41.6,41.7,41.8,41.9,42,42.1,42.2,42.3,42.4,42.5,42.6,42.7,42.8,42.9,43,43.1,43.2,43.3,43.4,43.5], "labels": false, "title": null, "tickSize": {"condition": {"test": "abs(datum.value*2-round(datum.value*2))<0.01", "value": -10}, "value": -5}}},
           "x2": {"field": "x2"}, "y2": {"field": "y2"}, "color": {"value": "black"}
         }},
        {"data": {"values": [{"x": 11.68, "y": 40.38, "c": "b", "t": "R=0.18 (p=0.21)"}, {"x": 11.68, "y": 40.18, "c": "r", "t": "R=0.30 (p=0.01)"}]}, "mark": {"type": "text", "align": "right", "baseline": "middle", "fontSize": 22}, "encoding": {"text": {"field": "t"}}}
      ],
      "resolve": {"axis": {"x": "independent", "y": "independent"}}
    },
    {
      "width": 481, "height": 415,
      "encoding": {
        "x": {"field": "x", "type": "quantitative", "scale": {"domain": [9.7, 11.8], "nice": false, "zero": false}, "axis": null},
        "y": {"field": "y", "type": "quantitative", "scale": {"domain": [40, 43.5], "nice": false, "zero": false}, "axis": null},
        "color": {"field": "c", "type": "nominal", "scale": {"domain": ["b", "r"], "range": ["#0000ff", "#ff0000"]}, "legend": null}
      },
      "layer": [
        {"data": {"name": "d140"}, "mark": {"type": "errorbar", "ticks": false, "thickness": 1, "opacity": 0.35}, "encoding": {"yError": {"field": "e"}}},
        {"data": {"name": "u140"}, "mark": {"type": "point", "shape": "triangle-down", "filled": false, "size": 50, "strokeWidth": 0.9, "opacity": 0.85}},
        {"data": {"name": "d140"}, "mark": {"type": "circle", "size": 66, "opacity": 1},
         "encoding": {
           "x": {"field": "x", "type": "quantitative", "scale": {"domain": [9.7, 11.8], "nice": false, "zero": false}, "axis": {"orient": "bottom", "values": [9.7,9.8,9.9,10,10.1,10.2,10.3,10.4,10.5,10.6,10.7,10.8,10.9,11,11.1,11.2,11.3,11.4,11.5,11.6,11.7,11.8], "labelExpr": "abs(datum.value*2-round(datum.value*2))<0.01 ? format(datum.value,'.1f') : ''", "tickSize": {"condition": {"test": "abs(datum.value*2-round(datum.value*2))<0.01", "value": -10}, "value": -5}, "labelPadding": 21, "labelFlush": false, "title": "log(Lₖ [Lₛᵤₙ])", "titlePadding": -4}},
           "y": {"field": "y", "type": "quantitative", "scale": {"domain": [40, 43.5], "nice": false, "zero": false}, "axis": {"orient": "left", "values": [40,40.1,40.2,40.3,40.4,40.5,40.6,40.7,40.8,40.9,41,41.1,41.2,41.3,41.4,41.5,41.6,41.7,41.8,41.9,42,42.1,42.2,42.3,42.4,42.5,42.6,42.7,42.8,42.9,43,43.1,43.2,43.3,43.4,43.5], "labelExpr": "abs(datum.value*2-round(datum.value*2))<0.01 ? format(datum.value,'.1f') : ''", "tickSize": {"condition": {"test": "abs(datum.value*2-round(datum.value*2))<0.01", "value": -10}, "value": -5}, "labelPadding": 15, "labelFlush": true, "title": "log(L₁₄₀ μm [erg s⁻¹])", "titlePadding": 6}}
         }},
        {"data": {"values": [{"x": 9.7, "y": 41.28, "x2": 11.8, "y2": 42.05}]}, "mark": {"type": "rule", "strokeWidth": 2},
         "encoding": {
           "x": {"field": "x", "type": "quantitative", "axis": {"orient": "top", "values": [9.7,9.8,9.9,10,10.1,10.2,10.3,10.4,10.5,10.6,10.7,10.8,10.9,11,11.1,11.2,11.3,11.4,11.5,11.6,11.7,11.8], "labels": false, "title": null, "tickSize": {"condition": {"test": "abs(datum.value*2-round(datum.value*2))<0.01", "value": -10}, "value": -5}}},
           "y": {"field": "y", "type": "quantitative", "axis": {"orient": "right", "values": [40,40.1,40.2,40.3,40.4,40.5,40.6,40.7,40.8,40.9,41,41.1,41.2,41.3,41.4,41.5,41.6,41.7,41.8,41.9,42,42.1,42.2,42.3,42.4,42.5,42.6,42.7,42.8,42.9,43,43.1,43.2,43.3,43.4,43.5], "labels": false, "title": null, "tickSize": {"condition": {"test": "abs(datum.value*2-round(datum.value*2))<0.01", "value": -10}, "value": -5}}},
           "x2": {"field": "x2"}, "y2": {"field": "y2"}, "color": {"value": "black"}
         }},
        {"data": {"values": [{"x": 11.68, "y": 40.38, "c": "b", "t": "R=0.24 (p=0.12)"}, {"x": 11.68, "y": 40.18, "c": "r", "t": "R=0.34 (p=0.05)"}]}, "mark": {"type": "text", "align": "right", "baseline": "middle", "fontSize": 22}, "encoding": {"text": {"field": "t"}}}
      ],
      "resolve": {"axis": {"x": "independent", "y": "independent"}}
    },
    {
      "width": 481, "height": 415,
      "encoding": {
        "x": {"field": "x", "type": "quantitative", "scale": {"domain": [9.7, 11.8], "nice": false, "zero": false}, "axis": null},
        "y": {"field": "y", "type": "quantitative", "scale": {"domain": [40, 43.5], "nice": false, "zero": false}, "axis": null},
        "color": {"field": "c", "type": "nominal", "scale": {"domain": ["b", "r"], "range": ["#0000ff", "#ff0000"]}, "legend": null}
      },
      "layer": [
        {"data": {"name": "d9"}, "mark": {"type": "errorbar", "ticks": false, "thickness": 1, "opacity": 0.35}, "encoding": {"yError": {"field": "e"}}},
        {"data": {"name": "d9"}, "mark": {"type": "circle", "size": 66, "opacity": 1},
         "encoding": {
           "x": {"field": "x", "type": "quantitative", "scale": {"domain": [9.7, 11.8], "nice": false, "zero": false}, "axis": {"orient": "bottom", "values": [9.7,9.8,9.9,10,10.1,10.2,10.3,10.4,10.5,10.6,10.7,10.8,10.9,11,11.1,11.2,11.3,11.4,11.5,11.6,11.7,11.8], "labelExpr": "abs(datum.value*2-round(datum.value*2))<0.01 ? format(datum.value,'.1f') : ''", "tickSize": {"condition": {"test": "abs(datum.value*2-round(datum.value*2))<0.01", "value": -10}, "value": -5}, "labelPadding": 21, "labelFlush": false, "title": "log(Lₖ [Lₛᵤₙ])", "titlePadding": -4}},
           "y": {"field": "y", "type": "quantitative", "scale": {"domain": [40, 43.5], "nice": false, "zero": false}, "axis": {"orient": "left", "values": [40,40.1,40.2,40.3,40.4,40.5,40.6,40.7,40.8,40.9,41,41.1,41.2,41.3,41.4,41.5,41.6,41.7,41.8,41.9,42,42.1,42.2,42.3,42.4,42.5,42.6,42.7,42.8,42.9,43,43.1,43.2,43.3,43.4,43.5], "labelExpr": "abs(datum.value*2-round(datum.value*2))<0.01 ? format(datum.value,'.1f') : ''", "tickSize": {"condition": {"test": "abs(datum.value*2-round(datum.value*2))<0.01", "value": -10}, "value": -5}, "labelPadding": 15, "labelFlush": true, "title": "log(L₉ μm [erg s⁻¹])", "titlePadding": 6}}
         }},
        {"data": {"values": [{"x": 9.7, "y": 41.05, "x2": 11.8, "y2": 42.31}]}, "mark": {"type": "rule", "strokeWidth": 2},
         "encoding": {
           "x": {"field": "x", "type": "quantitative", "axis": {"orient": "top", "values": [9.7,9.8,9.9,10,10.1,10.2,10.3,10.4,10.5,10.6,10.7,10.8,10.9,11,11.1,11.2,11.3,11.4,11.5,11.6,11.7,11.8], "labels": false, "title": null, "tickSize": {"condition": {"test": "abs(datum.value*2-round(datum.value*2))<0.01", "value": -10}, "value": -5}}},
           "y": {"field": "y", "type": "quantitative", "axis": {"orient": "right", "values": [40,40.1,40.2,40.3,40.4,40.5,40.6,40.7,40.8,40.9,41,41.1,41.2,41.3,41.4,41.5,41.6,41.7,41.8,41.9,42,42.1,42.2,42.3,42.4,42.5,42.6,42.7,42.8,42.9,43,43.1,43.2,43.3,43.4,43.5], "labels": false, "title": null, "tickSize": {"condition": {"test": "abs(datum.value*2-round(datum.value*2))<0.01", "value": -10}, "value": -5}}},
           "x2": {"field": "x2"}, "y2": {"field": "y2"}, "color": {"value": "black"}
         }}
      ],
      "resolve": {"axis": {"x": "independent", "y": "independent"}}
    },
    {
      "width": 481, "height": 415,
      "encoding": {
        "x": {"field": "x", "type": "quantitative", "scale": {"domain": [9.7, 11.8], "nice": false, "zero": false}, "axis": null},
        "y": {"field": "y", "type": "quantitative", "scale": {"domain": [40, 43.5], "nice": false, "zero": false}, "axis": null},
        "color": {"field": "c", "type": "nominal", "scale": {"domain": ["b", "r"], "range": ["#0000ff", "#ff0000"]}, "legend": null}
      },
      "layer": [
        {"data": {"name": "d18"}, "mark": {"type": "errorbar", "ticks": false, "thickness": 1, "opacity": 0.35}, "encoding": {"yError": {"field": "e"}}},
        {"data": {"name": "d18"}, "mark": {"type": "circle", "size": 66, "opacity": 1},
         "encoding": {
           "x": {"field": "x", "type": "quantitative", "scale": {"domain": [9.7, 11.8], "nice": false, "zero": false}, "axis": {"orient": "bottom", "values": [9.7,9.8,9.9,10,10.1,10.2,10.3,10.4,10.5,10.6,10.7,10.8,10.9,11,11.1,11.2,11.3,11.4,11.5,11.6,11.7,11.8], "labelExpr": "abs(datum.value*2-round(datum.value*2))<0.01 ? format(datum.value,'.1f') : ''", "tickSize": {"condition": {"test": "abs(datum.value*2-round(datum.value*2))<0.01", "value": -10}, "value": -5}, "labelPadding": 21, "labelFlush": false, "title": "log(Lₖ [Lₛᵤₙ])", "titlePadding": -4}},
           "y": {"field": "y", "type": "quantitative", "scale": {"domain": [40, 43.5], "nice": false, "zero": false}, "axis": {"orient": "left", "values": [40,40.1,40.2,40.3,40.4,40.5,40.6,40.7,40.8,40.9,41,41.1,41.2,41.3,41.4,41.5,41.6,41.7,41.8,41.9,42,42.1,42.2,42.3,42.4,42.5,42.6,42.7,42.8,42.9,43,43.1,43.2,43.3,43.4,43.5], "labelExpr": "abs(datum.value*2-round(datum.value*2))<0.01 ? format(datum.value,'.1f') : ''", "tickSize": {"condition": {"test": "abs(datum.value*2-round(datum.value*2))<0.01", "value": -10}, "value": -5}, "labelPadding": 15, "labelFlush": true, "title": "log(L₁₈ μm [erg s⁻¹])", "titlePadding": 6}}
         }},
        {"data": {"values": [{"x": 9.7, "y": 41.24, "x2": 11.8, "y2": 41.92}]}, "mark": {"type": "rule", "strokeWidth": 2},
         "encoding": {
           "x": {"field": "x", "type": "quantitative", "axis": {"orient": "top", "values": [9.7,9.8,9.9,10,10.1,10.2,10.3,10.4,10.5,10.6,10.7,10.8,10.9,11,11.1,11.2,11.3,11.4,11.5,11.6,11.7,11.8], "labels": false, "title": null, "tickSize": {"condition": {"test": "abs(datum.value*2-round(datum.value*2))<0.01", "value": -10}, "value": -5}}},
           "y": {"field": "y", "type": "quantitative", "axis": {"orient": "right", "values": [40,40.1,40.2,40.3,40.4,40.5,40.6,40.7,40.8,40.9,41,41.1,41.2,41.3,41.4,41.5,41.6,41.7,41.8,41.9,42,42.1,42.2,42.3,42.4,42.5,42.6,42.7,42.8,42.9,43,43.1,43.2,43.3,43.4,43.5], "labels": false, "title": null, "tickSize": {"condition": {"test": "abs(datum.value*2-round(datum.value*2))<0.01", "value": -10}, "value": -5}}},
           "x2": {"field": "x2"}, "y2": {"field": "y2"}, "color": {"value": "black"}
         }}
      ],
      "resolve": {"axis": {"x": "independent", "y": "independent"}}
    },
    {
      "width": 481, "height": 415,
      "encoding": {
        "x": {"field": "x", "type": "quantitative", "scale": {"domain": [9.7, 11.8], "nice": false, "zero": false}, "axis": null},
        "y": {"field": "y", "type": "quantitative", "scale": {"domain": [40, 43.5], "nice": false, "zero": false}, "axis": null},
        "color": {"field": "c", "type": "nominal", "scale": {"domain": ["b", "r"], "range": ["#0000ff", "#ff0000"]}, "legend": null}
      },
      "layer": [
        {"data": {"name": "d90"}, "mark": {"type": "errorbar", "ticks": false, "thickness": 1, "opacity": 0.35}, "encoding": {"yError": {"field": "e"}}},
        {"data": {"name": "d90"}, "mark": {"type": "circle", "size": 66, "opacity": 1},
         "encoding": {
           "x": {"field": "x", "type": "quantitative", "scale": {"domain": [9.7, 11.8], "nice": false, "zero": false}, "axis": {"orient": "bottom", "values": [9.7,9.8,9.9,10,10.1,10.2,10.3,10.4,10.5,10.6,10.7,10.8,10.9,11,11.1,11.2,11.3,11.4,11.5,11.6,11.7,11.8], "labelExpr": "abs(datum.value*2-round(datum.value*2))<0.01 ? format(datum.value,'.1f') : ''", "tickSize": {"condition": {"test": "abs(datum.value*2-round(datum.value*2))<0.01", "value": -10}, "value": -5}, "labelPadding": 21, "labelFlush": false, "title": "log(Lₖ [Lₛᵤₙ])", "titlePadding": -4}},
           "y": {"field": "y", "type": "quantitative", "scale": {"domain": [40, 43.5], "nice": false, "zero": false}, "axis": {"orient": "left", "values": [40,40.1,40.2,40.3,40.4,40.5,40.6,40.7,40.8,40.9,41,41.1,41.2,41.3,41.4,41.5,41.6,41.7,41.8,41.9,42,42.1,42.2,42.3,42.4,42.5,42.6,42.7,42.8,42.9,43,43.1,43.2,43.3,43.4,43.5], "labelExpr": "abs(datum.value*2-round(datum.value*2))<0.01 ? format(datum.value,'.1f') : ''", "tickSize": {"condition": {"test": "abs(datum.value*2-round(datum.value*2))<0.01", "value": -10}, "value": -5}, "labelPadding": 15, "labelFlush": true, "title": "log(L₉₀ μm [erg s⁻¹])", "titlePadding": 6}}
         }},
        {"data": {"values": [{"x": 9.7, "y": 41.475, "x2": 11.8, "y2": 42.17}]}, "mark": {"type": "rule", "strokeWidth": 2},
         "encoding": {
           "x": {"field": "x", "type": "quantitative", "axis": {"orient": "top", "values": [9.7,9.8,9.9,10,10.1,10.2,10.3,10.4,10.5,10.6,10.7,10.8,10.9,11,11.1,11.2,11.3,11.4,11.5,11.6,11.7,11.8], "labels": false, "title": null, "tickSize": {"condition": {"test": "abs(datum.value*2-round(datum.value*2))<0.01", "value": -10}, "value": -5}}},
           "y": {"field": "y", "type": "quantitative", "axis": {"orient": "right", "values": [40,40.1,40.2,40.3,40.4,40.5,40.6,40.7,40.8,40.9,41,41.1,41.2,41.3,41.4,41.5,41.6,41.7,41.8,41.9,42,42.1,42.2,42.3,42.4,42.5,42.6,42.7,42.8,42.9,43,43.1,43.2,43.3,43.4,43.5], "labels": false, "title": null, "tickSize": {"condition": {"test": "abs(datum.value*2-round(datum.value*2))<0.01", "value": -10}, "value": -5}}},
           "x2": {"field": "x2"}, "y2": {"field": "y2"}, "color": {"value": "black"}
         }}
      ],
      "resolve": {"axis": {"x": "independent", "y": "independent"}}
    },
    {
      "width": 481, "height": 415,
      "encoding": {
        "x": {"field": "x", "type": "quantitative", "scale": {"domain": [9.7, 11.8], "nice": false, "zero": false}, "axis": null},
        "y": {"field": "y", "type": "quantitative", "scale": {"domain": [40, 43.5], "nice": false, "zero": false}, "axis": null},
        "color": {"field": "c", "type": "nominal", "scale": {"domain": ["b", "r"], "range": ["#0000ff", "#ff0000"]}, "legend": null}
      },
      "layer": [
        {"data": {"name": "d140"}, "mark": {"type": "errorbar", "ticks": false, "thickness": 1, "opacity": 0.35}, "encoding": {"yError": {"field": "e"}}},
        {"data": {"name": "d140"}, "mark": {"type": "circle", "size": 66, "opacity": 1},
         "encoding": {
           "x": {"field": "x", "type": "quantitative", "scale": {"domain": [9.7, 11.8], "nice": false, "zero": false}, "axis": {"orient": "bottom", "values": [9.7,9.8,9.9,10,10.1,10.2,10.3,10.4,10.5,10.6,10.7,10.8,10.9,11,11.1,11.2,11.3,11.4,11.5,11.6,11.7,11.8], "labelExpr": "abs(datum.value*2-round(datum.value*2))<0.01 ? format(datum.value,'.1f') : ''", "tickSize": {"condition": {"test": "abs(datum.value*2-round(datum.value*2))<0.01", "value": -10}, "value": -5}, "labelPadding": 21, "labelFlush": false, "title": "log(Lₖ [Lₛᵤₙ])", "titlePadding": -4}},
           "y": {"field": "y", "type": "quantitative", "scale": {"domain": [40, 43.5], "nice": false, "zero": false}, "axis": {"orient": "left", "values": [40,40.1,40.2,40.3,40.4,40.5,40.6,40.7,40.8,40.9,41,41.1,41.2,41.3,41.4,41.5,41.6,41.7,41.8,41.9,42,42.1,42.2,42.3,42.4,42.5,42.6,42.7,42.8,42.9,43,43.1,43.2,43.3,43.4,43.5], "labelExpr": "abs(datum.value*2-round(datum.value*2))<0.01 ? format(datum.value,'.1f') : ''", "tickSize": {"condition": {"test": "abs(datum.value*2-round(datum.value*2))<0.01", "value": -10}, "value": -5}, "labelPadding": 15, "labelFlush": true, "title": "log(L₁₄₀ μm [erg s⁻¹])", "titlePadding": 6}}
         }},
        {"data": {"values": [{"x": 9.7, "y": 41.28, "x2": 11.8, "y2": 42.05}]}, "mark": {"type": "rule", "strokeWidth": 2},
         "encoding": {
           "x": {"field": "x", "type": "quantitative", "axis": {"orient": "top", "values": [9.7,9.8,9.9,10,10.1,10.2,10.3,10.4,10.5,10.6,10.7,10.8,10.9,11,11.1,11.2,11.3,11.4,11.5,11.6,11.7,11.8], "labels": false, "title": null, "tickSize": {"condition": {"test": "abs(datum.value*2-round(datum.value*2))<0.01", "value": -10}, "value": -5}}},
           "y": {"field": "y", "type": "quantitative", "axis": {"orient": "right", "values": [40,40.1,40.2,40.3,40.4,40.5,40.6,40.7,40.8,40.9,41,41.1,41.2,41.3,41.4,41.5,41.6,41.7,41.8,41.9,42,42.1,42.2,42.3,42.4,42.5,42.6,42.7,42.8,42.9,43,43.1,43.2,43.3,43.4,43.5], "labels": false, "title": null, "tickSize": {"condition": {"test": "abs(datum.value*2-round(datum.value*2))<0.01", "value": -10}, "value": -5}}},
           "x2": {"field": "x2"}, "y2": {"field": "y2"}, "color": {"value": "black"}
         }}
      ],
      "resolve": {"axis": {"x": "independent", "y": "independent"}}
    }
  ],
  "config": {
    "font": "Liberation Sans",
    "view": {"stroke": "black", "strokeWidth": 2},
    "axis": {"domain": false, "grid": false, "labelFont": "Liberation Sans", "labelFontSize": 20, "labelColor": "black", "titleFont": "Liberation Sans", "titleFontSize": 22, "titleFontWeight": "normal", "titleColor": "black", "tickColor": "black", "tickWidth": 1.5, "labelOverlap": false},
    "text": {"font": "Liberation Sans"}
  }
}
